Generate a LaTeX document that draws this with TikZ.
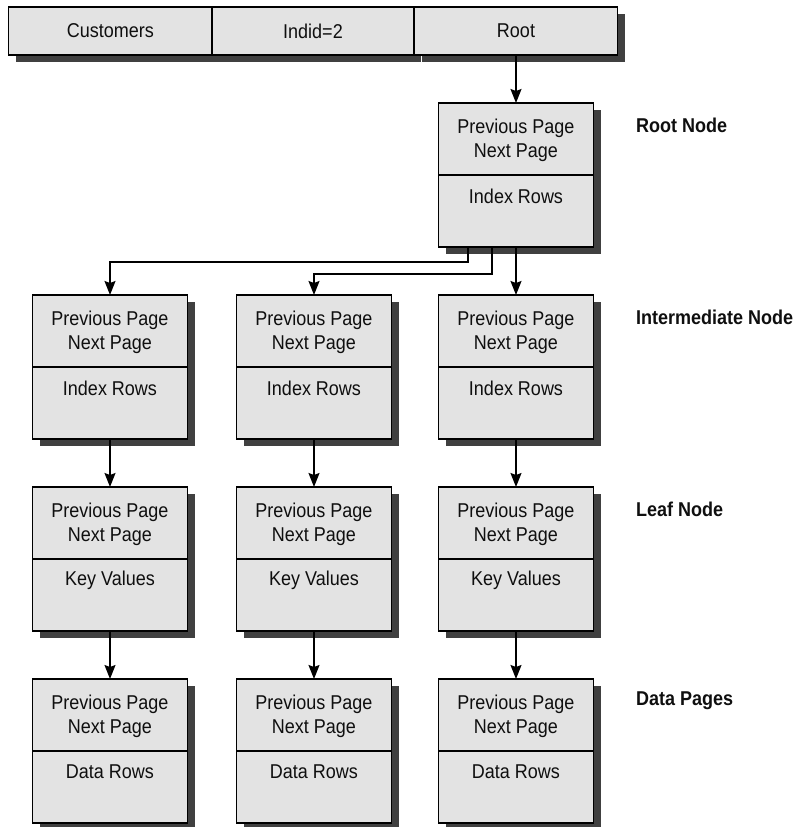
\documentclass[tikz,border=0pt]{standalone}
\usepackage{fontspec}
\setmainfont[FakeStretch=0.9]{Liberation Sans}
\usetikzlibrary{shadows,arrows.meta}
\definecolor{boxfill}{RGB}{227,227,227}
\definecolor{shadowc}{RGB}{64,64,64}
\definecolor{txt}{RGB}{15,15,15}
\tikzset{
  pbox/.style={draw=black, line width=1.2pt, fill=boxfill, minimum width=155pt, minimum height=144pt, inner sep=0pt, outer sep=0pt,
    general shadow={fill=shadowc, shadow xshift=7pt, shadow yshift=-7pt}},
  cell/.style={draw=black, line width=1.2pt, fill=boxfill, minimum height=48pt, inner sep=0pt, outer sep=0pt,
    font=\fontsize{20}{24}\selectfont, text=txt,
    general shadow={fill=shadowc, shadow xshift=7pt, shadow yshift=-7pt}},
  ptxt/.style={font=\fontsize{20}{24}\selectfont, align=center, inner sep=0pt, text=txt},
  lab/.style={font=\bfseries\fontsize{20}{24}\selectfont, anchor=west, inner sep=0pt, text=txt},
  divline/.style={line width=1.2pt},
  arr/.style={line width=1.6pt, -{Stealth[length=14pt,width=11pt,inset=2pt]}},
}
\newcommand\pgbox[4]{%
  \node[pbox] (#1) at (#2,#3+72) {};
  \draw[divline] (#1.west) -- (#1.east);
  \node[ptxt] (#1u) at ([yshift=-37pt]#1.north) {Previous Page\\Next Page};
  \node[ptxt] (#1l) at ([yshift=-93pt]#1.north) {#4};
}
\begin{document}
\begin{tikzpicture}[x=1pt,y=-1pt]
\useasboundingbox (0,0) rectangle (798,827);
% top bar
\node[cell, minimum width=203.3pt] (c1) at (110.35,31) {Customers};
\node[cell, minimum width=202pt] (c2) at (313,31) {Indid=2};
\node[cell, minimum width=203pt] (c3) at (516,31) {Root};
% boxes
\pgbox{root}{516}{103}{Index Rows}
\pgbox{i1}{110}{295}{Index Rows}
\pgbox{i2}{314}{295}{Index Rows}
\pgbox{i3}{516}{295}{Index Rows}
\pgbox{l1}{110}{487}{Key Values}
\pgbox{l2}{314}{487}{Key Values}
\pgbox{l3}{516}{487}{Key Values}
\pgbox{d1}{110}{679}{Data Rows}
\pgbox{d2}{314}{679}{Data Rows}
\pgbox{d3}{516}{679}{Data Rows}
% labels
\node[lab] (lr) at (636,125) {Root Node};
\node[lab] (li) at (636,317) {Intermediate Node};
\node[lab] (ll) at (636,509) {Leaf Node};
\node[lab] (ld) at (636,701) {Data Pages};
% connectors
\draw[arr] (c3.south) -- (root.north);
\draw[arr] ([xshift=-48pt]root.south) -- ++(0,15) -| (i1.north);
\draw[arr] ([xshift=-24pt]root.south) -- ++(0,27) -| (i2.north);
\draw[arr] (root.south) -- (i3.north);
\draw[arr] (i1.south) -- (l1.north);
\draw[arr] (i2.south) -- (l2.north);
\draw[arr] (i3.south) -- (l3.north);
\draw[arr] (l1.south) -- (d1.north);
\draw[arr] (l2.south) -- (d2.north);
\draw[arr] (l3.south) -- (d3.north);
\end{tikzpicture}
\end{document}
